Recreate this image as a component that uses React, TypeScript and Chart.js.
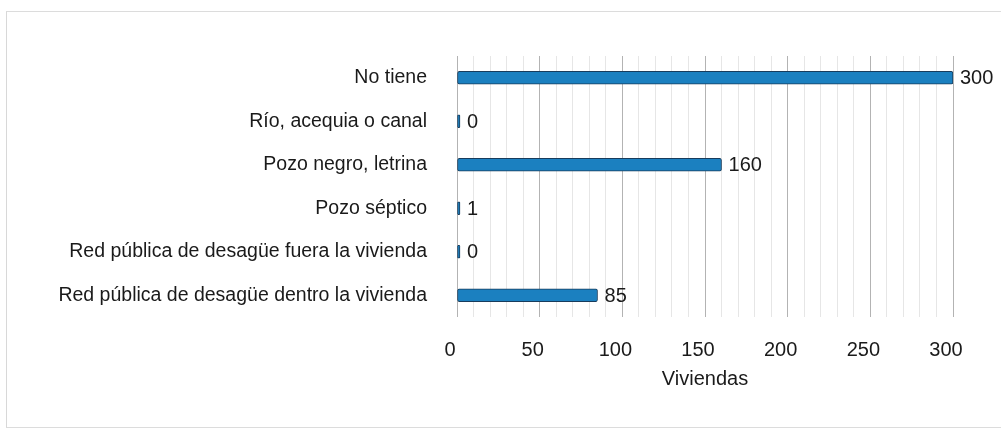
import React, { useEffect, useRef } from "react";
import { Chart, registerables } from "chart.js";

Chart.register(...registerables);

const categories = [
  "No tiene",
  "Río, acequia o canal",
  "Pozo negro, letrina",
  "Pozo séptico",
  "Red pública de desagüe fuera la vivienda",
  "Red pública de desagüe dentro la vivienda",
];
const viviendas = [300, 0, 160, 1, 0, 85];
const axisTitle = "Viviendas";

const FONT = "'Liberation Sans', Arial, sans-serif";

const valueLabels = {
  id: "valueLabels",
  afterDatasetsDraw(chart: any) {
    const ctx = chart.ctx;
    const meta = chart.getDatasetMeta(0);
    ctx.save();
    ctx.font = `20px ${FONT}`;
    ctx.fillStyle = "#1a1a1a";
    ctx.textAlign = "left";
    ctx.textBaseline = "middle";
    meta.data.forEach((bar: any, i: number) => {
      const v = chart.data.datasets[0].data[i];
      ctx.fillText(String(v), bar.x + 7, bar.y + 1);
    });
    ctx.restore();
  },
};

export default function App() {
  const ref = useRef<HTMLCanvasElement>(null);
  useEffect(() => {
    if (!ref.current) return;
    const chart = new Chart(ref.current, {
      type: "bar",
      data: {
        labels: categories,
        datasets: [
          {
            data: viviendas,
            backgroundColor: "#1b80c0",
            borderColor: "#183c5c",
            borderWidth: 1,
            borderRadius: 2,
            borderSkipped: false,
            barThickness: 13,
            minBarLength: 3,
          },
        ],
      },
      options: {
        indexAxis: "y",
        animation: false,
        responsive: false,
        layout: { padding: { top: 56, right: 48, left: 0, bottom: 0 } },
        plugins: { legend: { display: false }, tooltip: { enabled: false } },
        scales: {
          x: {
            min: 0,
            max: 300,
            afterFit: (s: any) => {
              s.height = 429 - 317;
            },
            ticks: {
              stepSize: 10,
              autoSkip: false,
              maxRotation: 0,
              labelOffset: -7,
              padding: 21,
              color: "#1a1a1a",
              font: { family: FONT, size: 20 },
              callback: (v: any) => (Number(v) % 50 === 0 ? String(v) : ""),
            },
            grid: {
              drawTicks: false,
              color: (c: any) => (c.tick && c.tick.value % 50 === 0 ? "#b3b3b3" : "#e6e6e6"),
              lineWidth: 1,
            },
            border: { display: false },
            title: {
              display: true,
              text: axisTitle,
              color: "#1a1a1a",
              font: { family: FONT, size: 20 },
              padding: { top: 0, bottom: 38 },
            },
          },
          y: {
            afterFit: (s: any) => {
              s.width = 457;
            },
            ticks: {
              padding: 22,
              color: "#1a1a1a",
              font: { family: FONT, size: 19.5 },
            },
            grid: { display: false },
            border: { display: false },
          },
        },
      },
      plugins: [valueLabels],
    });
    return () => chart.destroy();
  }, []);
  return (
    <div style={{ position: "absolute", left: 0, top: 0, width: 1001, height: 429, background: "#fff" }}>
      <div
        style={{
          position: "absolute",
          left: 6,
          top: 11,
          right: -2,
          bottom: 1,
          borderLeft: "1px solid #d8d8d8",
          borderTop: "1px solid #dcdcdc",
          borderBottom: "1px solid #dcdcdc",
        }}
      />
      <canvas ref={ref} width={1001} height={429} style={{ position: "absolute", left: 0, top: 0 }} />
    </div>
  );
}
